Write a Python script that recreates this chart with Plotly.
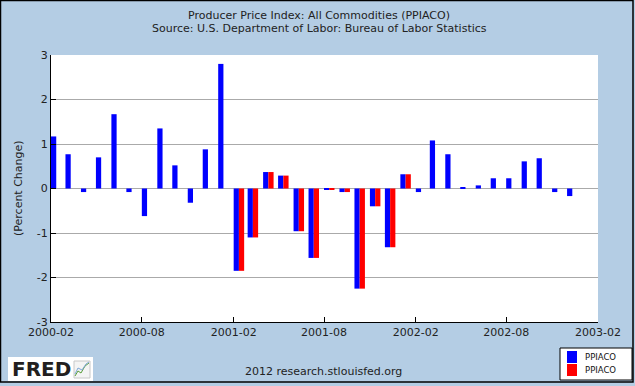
import plotly.graph_objects as go

# ---- data ----
blue_months = ["2000-02", "2000-03", "2000-04", "2000-05", "2000-06", "2000-07",
               "2000-08", "2000-09", "2000-10", "2000-11", "2000-12", "2001-01",
               "2001-02", "2001-03", "2001-04", "2001-05", "2001-06", "2001-07",
               "2001-08", "2001-09", "2001-10", "2001-11", "2001-12", "2002-01",
               "2002-02", "2002-03", "2002-04", "2002-05", "2002-06", "2002-07",
               "2002-08", "2002-09", "2002-10", "2002-11", "2002-12"]
blue_values = [1.17, 0.77, -0.08, 0.70, 1.67, -0.08,
               -0.62, 1.35, 0.52, -0.32, 0.88, 2.80,
               -1.85, -1.10, 0.37, 0.29, -0.96, -1.56,
               -0.03, -0.08, -2.25, -0.40, -1.32, 0.32,
               -0.08, 1.08, 0.77, 0.02, 0.07, 0.23,
               0.23, 0.61, 0.68, -0.08, -0.17]

red_months = ["2001-02", "2001-03", "2001-04", "2001-05", "2001-06", "2001-07",
              "2001-08", "2001-09", "2001-10", "2001-11", "2001-12", "2002-01"]
red_values = [-1.85, -1.10, 0.37, 0.29, -0.96, -1.56,
              -0.03, -0.08, -2.25, -0.40, -1.32, 0.32]

tick_labels = ["2000-02", "2000-08", "2001-02", "2001-08", "2002-02", "2002-08", "2003-02"]
y_ticks = [3, 2, 1, 0, -1, -2, -3]

series_names = ["PPIACO", "PPIACO"]
series_colors = ["#0000ff", "#ff0000"]
title_lines = ["Producer Price Index: All Commodities (PPIACO)",
               "Source: U.S. Department of Labor: Bureau of Labor Statistics"]
y_title = "(Percent Change)"
footer = "2012 research.stlouisfed.org"

# ---- layout geometry ----
W, H = 635, 386
L, R, T, B = 51, 37, 55, 64
PW, PH = W - L - R, H - T - B


def px(x):
    return (x - L) / PW


def py(y):
    return (H - B - y) / PH


DAY = 86400000
bar_w = 10.5 * DAY
BG = "#b4cde4"
FONT = "DejaVu Sans"

fig = go.Figure()
fig.add_trace(go.Bar(x=[m + "-01" for m in blue_months], y=blue_values,
                     name=series_names[0], marker_color=series_colors[0],
                     marker_line_width=0, width=bar_w, offset=0))
fig.add_trace(go.Bar(x=[m + "-01" for m in red_months], y=red_values,
                     name=series_names[1], marker_color=series_colors[1],
                     marker_line_width=0, width=bar_w, offset=bar_w))

fig.update_layout(
    width=W, height=H,
    margin=dict(l=L, r=R, t=T, b=B, pad=0, autoexpand=False),
    paper_bgcolor=BG, plot_bgcolor="white",
    barmode="overlay",
    font=dict(family=FONT, size=11, color="#222"),
    showlegend=False,
    xaxis=dict(type="date", range=["2000-02-01", "2003-02-01"],
               tickvals=[t + "-01" for t in tick_labels], ticktext=tick_labels,
               ticks="inside", ticklen=5, tickcolor="black",
               showline=True, linecolor="black", linewidth=1,
               showgrid=False, zeroline=False, automargin=False,
               tickfont=dict(family=FONT, size=11, color="#222")),
    yaxis=dict(range=[-3, 3], tickvals=y_ticks, ticktext=[str(v) for v in y_ticks],
               ticks="inside", ticklen=5, tickcolor="black",
               showline=True, linecolor="black", linewidth=1,
               showgrid=True, gridcolor="#aaaaaa", gridwidth=1,
               zeroline=True, zerolinecolor="#aaaaaa", zerolinewidth=1,
               automargin=False,
               tickfont=dict(family=FONT, size=11, color="#222")),
)

ann = [
    dict(text=title_lines[0], x=px(319), y=py(15)),
    dict(text=title_lines[1], x=px(319), y=py(29)),
    dict(text=footer, x=px(323), y=py(371)),
]
for a in ann:
    fig.add_annotation(xref="paper", yref="paper", xanchor="center", yanchor="middle",
                       showarrow=False, font=dict(family=FONT, size=11, color="#222"), **a)
fig.add_annotation(xref="paper", yref="paper", x=px(18), y=py(188), text=y_title,
                   textangle=-90, showarrow=False, xanchor="center", yanchor="middle",
                   font=dict(family=FONT, size=11, color="#222"))

# outer border
fig.add_shape(type="rect", xref="paper", yref="paper",
              x0=px(0.5), x1=px(633), y0=py(0.5), y1=py(382),
              line=dict(color="black", width=1.5), fillcolor="rgba(0,0,0,0)", layer="below")

# legend (drawn manually so it does not push the margins)
fig.add_shape(type="rect", xref="paper", yref="paper",
              x0=px(560), x1=px(632), y0=py(348), y1=py(380),
              line=dict(color="black", width=1), fillcolor="white")
for i, (nm, col) in enumerate(zip(series_names, series_colors)):
    top = 351 + i * 13
    fig.add_shape(type="rect", xref="paper", yref="paper",
                  x0=px(567), x1=px(577), y0=py(top), y1=py(top + 12),
                  line=dict(width=0), fillcolor=col)
    fig.add_annotation(xref="paper", yref="paper", x=px(583), y=py(top + 6), text=nm,
                       showarrow=False, xanchor="left", yanchor="middle",
                       font=dict(family=FONT, size=8.5, color="#111"))

# FRED logo box
fig.add_shape(type="rect", xref="paper", yref="paper",
              x0=px(8), x1=px(93), y0=py(357), y1=py(381),
              line=dict(width=0), fillcolor="white")
fig.add_annotation(xref="paper", yref="paper", x=px(10), y=py(369), text="<b>FRED</b>",
                   showarrow=False, xanchor="left", yanchor="middle",
                   font=dict(family="DejaVu Sans", size=20, color="#231f20"))
# small chart icon
fig.add_shape(type="rect", xref="paper", yref="paper",
              x0=px(74), x1=px(90), y0=py(361), y1=py(378),
              line=dict(color="#c8c8c8", width=1), fillcolor="#f4f4f4")
fig.add_shape(type="path", xref="paper", yref="paper",
              path=f"M {px(75)} {py(376)} L {px(78)} {py(371)} L {px(81)} {py(373)} L {px(85)} {py(366)} L {px(89)} {py(363)}",
              line=dict(color="#5a9e3a", width=1))
fig.add_shape(type="path", xref="paper", yref="paper",
              path=f"M {px(75)} {py(374)} L {px(78)} {py(368)} L {px(82)} {py(370)} L {px(86)} {py(364)} L {px(89)} {py(362)}",
              line=dict(color="#7fa7d6", width=1))

fig.write_html("out.html", config={"displayModeBar": False},
               post_script="document.body.style.margin='0';")
